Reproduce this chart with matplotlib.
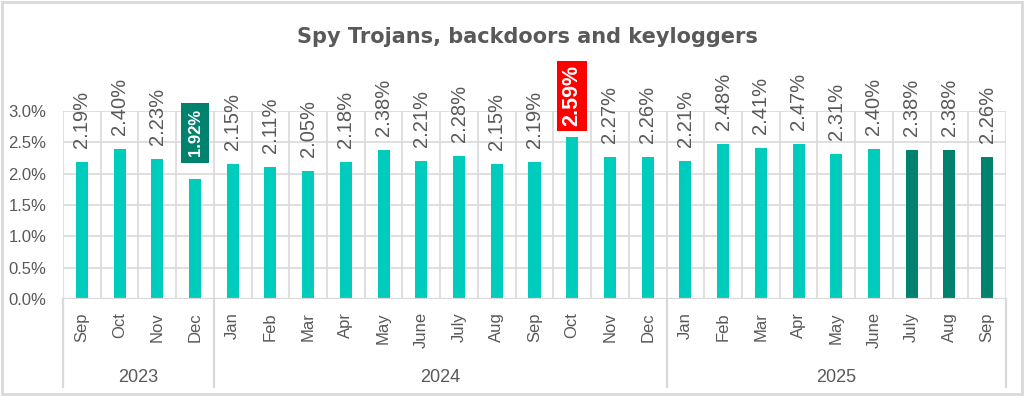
import matplotlib
matplotlib.use("Agg")
import matplotlib.pyplot as plt
from matplotlib.patches import Rectangle

months = ["Sep", "Oct", "Nov", "Dec",
          "Jan", "Feb", "Mar", "Apr", "May", "June", "July", "Aug", "Sep", "Oct", "Nov", "Dec",
          "Jan", "Feb", "Mar", "Apr", "May", "June", "July", "Aug", "Sep"]
values = [2.19, 2.40, 2.23, 1.92,
          2.15, 2.11, 2.05, 2.18, 2.38, 2.21, 2.28, 2.15, 2.19, 2.59, 2.27, 2.26,
          2.21, 2.48, 2.41, 2.47, 2.31, 2.40, 2.38, 2.38, 2.26]
years = ["2023", "2024", "2025"]
year_counts = [4, 12, 9]
yticks = [0.0, 0.5, 1.0, 1.5, 2.0, 2.5, 3.0]

TEAL = "#00CCBE"
DARK = "#00826E"
RED = "#FF0000"
GRAY = "#595959"
GRID = "#D9D9D9"

min_idx = values.index(min(values))
max_idx = values.index(max(values))
bar_colors = [TEAL] * len(values)
for i in range(len(values) - 3, len(values)):
    bar_colors[i] = DARK

LAB = ['Liberation Sans', 'DejaVu Sans']
plt.rcParams['font.family'] = LAB

fig = plt.figure(figsize=(10.24, 3.96), dpi=100)
fig.patch.set_facecolor("white")
ax = fig.add_axes([63 / 1024, 1 - 299 / 396, (1006 - 63) / 1024, (299 - 111) / 396])

x = list(range(len(values)))
ax.bar(x, values, width=0.32, color=bar_colors, zorder=3)
ax.set_xlim(-0.5, len(values) - 0.5)
ax.set_ylim(0, 3.0)
ax.set_yticks(yticks)
ax.set_yticklabels([f"{t:.1f}%" for t in yticks], fontsize=12, color=GRAY)
ax.set_xticks(x)
ax.set_xticklabels(months, rotation=90, fontsize=12, color=GRAY)
ax.tick_params(axis='both', length=0)
ax.tick_params(axis='x', pad=9.5)
ax.tick_params(axis='y', pad=12)

ax.yaxis.grid(True, color=GRID, lw=1.2, zorder=0)
for b in range(len(values) + 1):
    ax.axvline(b - 0.5, color=GRID, lw=1.2, zorder=0)
for s in ax.spines.values():
    s.set_visible(False)
ax.axhline(0, color=GRID, lw=1.6, zorder=4)

start = 0
bounds = [0]
for c in year_counts:
    start += c
    bounds.append(start)
for b in bounds:
    ax.plot([b - 0.5, b - 0.5], [0, -0.47], transform=ax.get_xaxis_transform(),
            color=GRID, lw=1.6, clip_on=False)
for yname, s, e in zip(years, bounds[:-1], bounds[1:]):
    ax.text((s + e - 1) / 2, -0.415, yname, transform=ax.get_xaxis_transform(),
            ha='center', va='center', fontsize=13, color=GRAY)

for i, v in enumerate(values):
    txt = f"{v:.2f}%"
    if i == min_idx:
        ax.annotate(txt, (i, v), xytext=(0, 16), textcoords='offset points',
                    rotation=90, ha='center', va='bottom', fontsize=12,
                    fontweight='bold', color='white', zorder=5,
                    bbox=dict(boxstyle='square,pad=0.38', fc=DARK, ec='none'),
                    annotation_clip=False)
    elif i == max_idx:
        ax.annotate(txt, (i, v), xytext=(0, 7.5), textcoords='offset points',
                    rotation=90, ha='center', va='bottom', fontsize=15.5,
                    fontweight='bold', color='white', zorder=5,
                    bbox=dict(boxstyle='square,pad=0.2', fc=RED, ec='none'),
                    annotation_clip=False)
    else:
        ax.annotate(txt, (i, v), xytext=(0, 10), textcoords='offset points',
                    rotation=90, ha='center', va='bottom', fontsize=14.5,
                    color=GRAY, zorder=5, annotation_clip=False)

fig.text(527 / 1024, 1 - 37 / 396, "Spy Trojans, backdoors and keyloggers",
         ha='center', va='center', fontsize=15, fontweight='bold', color=GRAY,
         family=['DejaVu Sans'])

fig.patches.append(Rectangle((0.002, 0.004), 0.996, 0.992, transform=fig.transFigure,
                             fill=False, ec=GRID, lw=2))

fig.savefig("out.png", dpi=100)
